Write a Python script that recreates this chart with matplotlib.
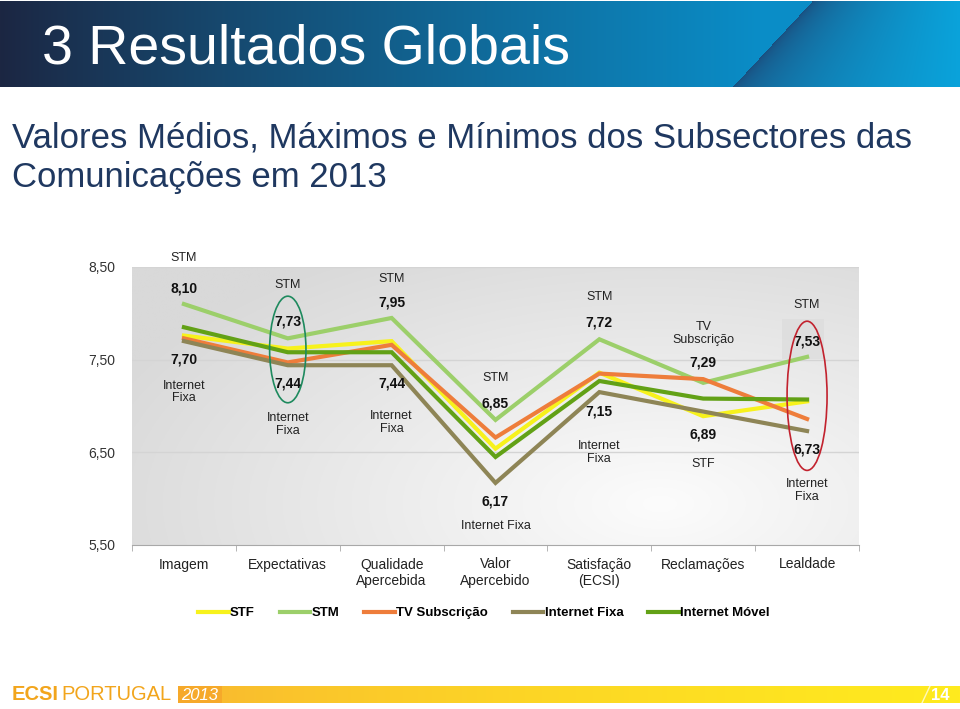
import numpy as np
import matplotlib
matplotlib.use("Agg")
import matplotlib.pyplot as plt
from matplotlib.patches import Ellipse, Rectangle
from matplotlib.colors import to_rgb

plt.rcParams["font.family"] = ["Liberation Sans", "DejaVu Sans"]

# ── Data ──────────────────────────────────────────────────────────────────────
CATEGORIES = ["Imagem", "Expectativas", "Qualidade\nApercebida", "Valor\nApercebido",
              "Satisfação\n(ECSI)", "Reclamações", "Lealdade"]

STF       = [7.76, 7.62, 7.70, 6.54, 7.36, 6.89, 7.05]
STM       = [8.10, 7.73, 7.95, 6.85, 7.72, 7.25, 7.53]
TV_SUB    = [7.73, 7.47, 7.66, 6.66, 7.35, 7.29, 6.86]
INT_FIXA  = [7.70, 7.44, 7.44, 6.17, 7.15, 6.94, 6.73]
INT_MOVEL = [7.85, 7.58, 7.58, 6.45, 7.27, 7.08, 7.07]

SERIES = [("STF", STF, "#F7F21C"), ("STM", STM, "#9CCF6A"),
          ("TV Subscrição", TV_SUB, "#EE7D3B"), ("Internet Fixa", INT_FIXA, "#8E8556"),
          ("Internet Móvel", INT_MOVEL, "#62A116")]

MAX_NAMES = ["STM", "STM", "STM", "STM", "STM", "TV\nSubscrição", "STM"]
MAX_VALS  = ["8,10", "7,73", "7,95", "6,85", "7,72", "7,29", "7,53"]
MIN_VALS  = ["7,70", "7,44", "7,44", "6,17", "7,15", "6,89", "6,73"]
MIN_NAMES = ["Internet\nFixa", "Internet\nFixa", "Internet\nFixa", "Internet Fixa",
             "Internet\nFixa", "STF", "Internet\nFixa"]

# label heights (data units)
MAX_NAME_Y = [8.60, 8.31, 8.37, 7.30, 8.18, 7.78, 8.09]
MAX_VAL_Y  = [8.27, 7.91, 8.12, 7.03, 7.90, 7.47, 7.70]
MIN_VAL_Y  = [7.50, 7.24, 7.24, 5.97, 6.94, 6.69, 6.53]
MIN_NAME_Y = [7.15, 6.80, 6.82, 5.70, 6.50, 6.37, 6.09]

YTICKS = [5.5, 6.5, 7.5, 8.5]
YTICKLABELS = ["5,50", "6,50", "7,50", "8,50"]

W, H = 960, 709
fig = plt.figure(figsize=(W / 100, H / 100), dpi=100)
fig.patch.set_facecolor("white")

# ── Background layer (pixel coordinates) ──────────────────────────────────────
bg = fig.add_axes([0, 0, 1, 1], zorder=0)
bg.set_xlim(0, W)
bg.set_ylim(H, 0)
bg.axis("off")

# header bar
hh = 86
yy, xx = np.mgrid[0:hh, 0:W].astype(float)
diag = 812 - (yy / hh) * 80
navy, blue = np.array(to_rgb("#1C2642")), np.array(to_rgb("#0A8DC7"))
dark2, light2 = np.array(to_rgb("#1B4C7C")), np.array(to_rgb("#0AA3DB"))
t = np.clip(xx / 760, 0, 1)[..., None] ** 0.9
left = navy * (1 - t) + blue * t
s = np.clip((xx - diag) / (W - diag), 0, 1)[..., None] ** 0.5
right = dark2 * (1 - s) + light2 * s
img = np.where((xx >= diag)[..., None], right, left)
bg.imshow(img, extent=(0, W, hh + 1, 1), aspect="auto", zorder=1)
bg.text(42, 49, "3 Resultados Globais", color="white", fontsize=40,
        va="center", ha="left", zorder=2)

# subtitle
bg.text(12, 138, "Valores Médios, Máximos e Mínimos dos Subsectores das",
        color="#1F3860", fontsize=25, va="center", ha="left")
bg.text(12, 177, "Comunicações em 2013", color="#1F3860", fontsize=25,
        va="center", ha="left")

# footer bar
fx = np.linspace(0, 1, 400)[None, :, None]
c0, c1 = np.array(to_rgb("#F8B232")), np.array(to_rgb("#FFEB1E"))
fimg = c0 * (1 - fx ** 0.6) + c1 * fx ** 0.6
bg.imshow(np.repeat(fimg, 2, axis=0), extent=(178, W, 703, 686), aspect="auto", zorder=1)
bg.add_patch(Rectangle((178, 686), 44, 17, fc="#F6A92A", ec="none", zorder=2))
bg.text(200, 695, "2013", color="white", fontsize=12, style="italic",
        ha="center", va="center", zorder=3)
bg.text(12, 695, "ECSI", color="#F2A51C", fontsize=14.5, fontweight="bold",
        ha="left", va="center")
bg.text(61, 695, "PORTUGAL", color="#F2A51C", fontsize=14.5,
        ha="left", va="center")
bg.plot([922, 930], [703, 686], color="white", lw=1, alpha=0.7, zorder=3)
bg.text(940, 695, "14", color="white", fontsize=12, fontweight="bold",
        ha="center", va="center", zorder=3)

# ── Chart ─────────────────────────────────────────────────────────────────────
ax = fig.add_axes([132 / W, 1 - 545 / H, 727 / W, 278 / H], zorder=2)
ax.patch.set_visible(False)
x = np.arange(len(CATEGORIES))
ax.set_xlim(-0.5, len(CATEGORIES) - 0.5)
ax.set_ylim(5.5, 8.5)

# grey radial gradient background
gy, gx = np.mgrid[0:200, 0:400].astype(float)
d = np.sqrt(((gx - 290) / 330) ** 2 + ((gy - 170) / 210) ** 2)
d = np.clip(d, 0, 1)[..., None]
g = np.array(to_rgb("#FCFCFC")) * (1 - d) + np.array(to_rgb("#D9D9D9")) * d
ax.imshow(g, extent=(-0.5, 6.5, 5.5, 8.5), aspect="auto", origin="upper", zorder=0)

for yv in [6.5, 7.5, 8.5]:
    ax.axhline(yv, color="#D4D4D4", lw=1, zorder=1)

ax.add_patch(Rectangle((5.76, 7.51), 0.4, 0.43, fc="#DCDCDC", ec="none", alpha=0.7, zorder=1))

for name, vals, col in SERIES:
    ax.plot(x, vals, color=col, lw=3, label=name, zorder=3, solid_joinstyle="miter")

for i in range(len(CATEGORIES)):
    ax.text(i, MAX_NAME_Y[i], MAX_NAMES[i], ha="center", va="center", fontsize=9,
            color="#222222", linespacing=1.05, zorder=5)
    ax.text(i, MAX_VAL_Y[i], MAX_VALS[i], ha="center", va="center", fontsize=10,
            fontweight="bold", color="#111111", zorder=5)
    ax.text(i, MIN_VAL_Y[i], MIN_VALS[i], ha="center", va="center", fontsize=10,
            fontweight="bold", color="#111111", zorder=5)
    ax.text(i, MIN_NAME_Y[i], MIN_NAMES[i], ha="center", va="center", fontsize=9,
            color="#222222", linespacing=1.05, zorder=5)

ax.add_patch(Ellipse((1, 7.61), 0.35, 1.15, fill=False, ec="#1E8A5E", lw=1.2, zorder=6))
ax.add_patch(Ellipse((6, 7.11), 0.385, 1.61, fill=False, ec="#C2222E", lw=1.2, zorder=6))

for side in ["left", "right", "top"]:
    ax.spines[side].set_visible(False)
ax.spines["bottom"].set_color("#A8A8A8")
ax.set_yticks(YTICKS)
ax.set_yticklabels(YTICKLABELS)
ax.tick_params(axis="y", length=0, pad=12, labelsize=10, labelcolor="#333333")
ax.set_xticks(x)
ax.set_xticklabels(CATEGORIES)
ax.tick_params(axis="x", length=0, pad=9, labelsize=10, labelcolor="#222222")
ax.set_xticks(np.arange(-0.5, len(CATEGORIES)), minor=True)
ax.tick_params(axis="x", which="minor", length=4, color="#A8A8A8", direction="out")

fig.legend(loc="center", bbox_to_anchor=(484 / W, 1 - 613 / H), ncol=5, frameon=False,
           handlelength=2.3, handletextpad=0.1, columnspacing=1.9,
           prop={"weight": "bold", "size": 9.5})

fig.savefig("out.png", dpi=100, facecolor="white")
